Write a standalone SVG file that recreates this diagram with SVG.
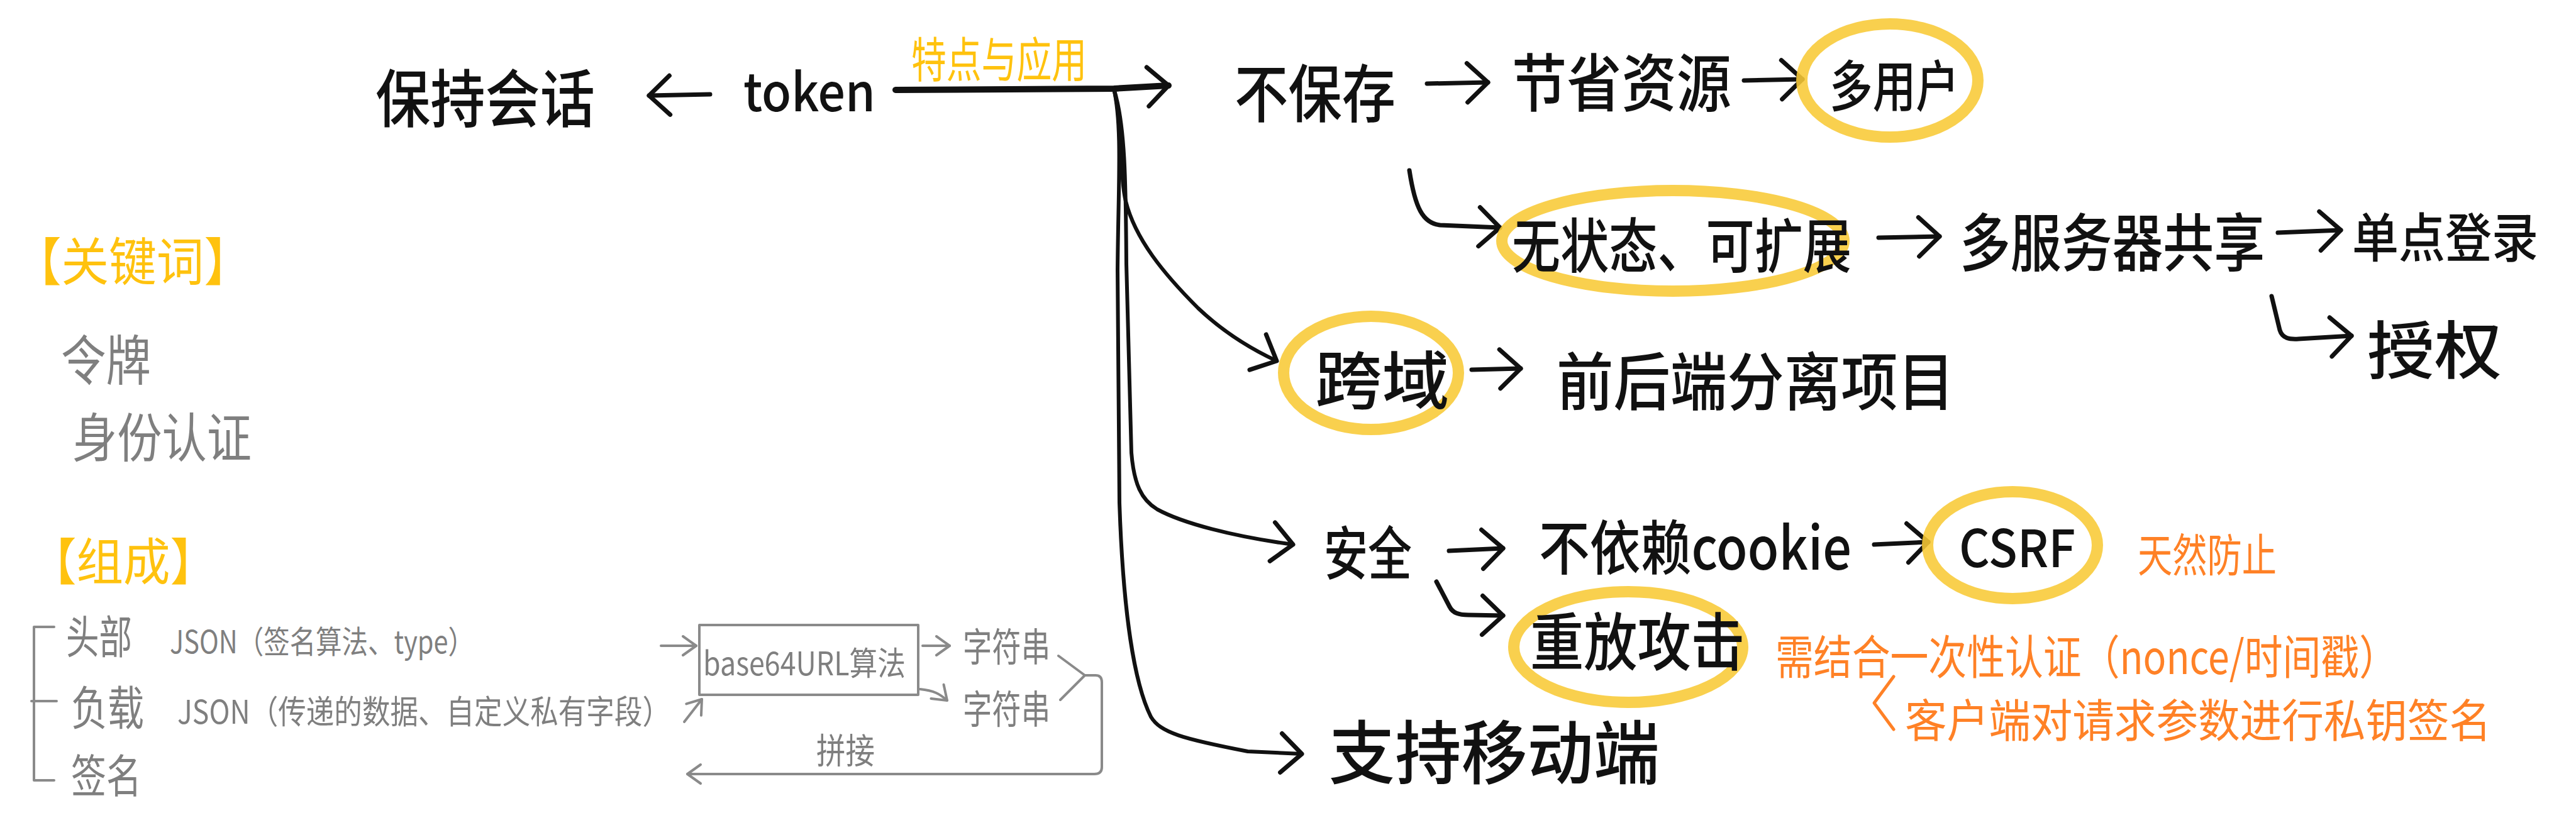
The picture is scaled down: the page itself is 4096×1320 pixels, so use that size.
<svg xmlns="http://www.w3.org/2000/svg" width="4096" height="1320" viewBox="0 0 4096 1320">
<defs>
<style>
.t{font-family:"Noto Sans CJK SC","Noto Sans",sans-serif;fill:#111;dominant-baseline:central;font-weight:500}
.g{fill:#7f7f7f;font-weight:400}
.y{fill:#FFC20E;font-weight:400}
.o{fill:#FF8126;font-weight:400}
.hl{fill:none;stroke:#F8CA35;stroke-width:18;opacity:.88}
.ln{fill:none;stroke:#111;stroke-width:7;stroke-linecap:round;stroke-linejoin:round}
.tr{fill:none;stroke:#111;stroke-width:6;stroke-linecap:round;stroke-linejoin:round}
.gl{fill:none;stroke:#8a8a8a;stroke-width:4;stroke-linecap:round;stroke-linejoin:round}
.ol{fill:none;stroke:#FF8126;stroke-width:5;stroke-linecap:round;stroke-linejoin:round}
</style>
<marker id="ah" viewBox="0 0 40 70" refX="37" refY="35" markerWidth="40" markerHeight="70" markerUnits="userSpaceOnUse" orient="auto" overflow="visible">
<path d="M4,4 L37,35 L4,66" fill="none" stroke="#111" stroke-width="7" stroke-linecap="round" stroke-linejoin="round"/>
</marker>
<marker id="ag" viewBox="0 0 26 36" refX="24" refY="18" markerWidth="26" markerHeight="36" markerUnits="userSpaceOnUse" orient="auto" overflow="visible">
<path d="M3,3 L24,18 L3,33" fill="none" stroke="#8a8a8a" stroke-width="4" stroke-linecap="round" stroke-linejoin="round"/>
</marker>
</defs>
<rect width="4096" height="1320" fill="#fff"/>

<g id="connectors">
<path class="ln" d="M1129,150 L1032,152" marker-end="url(#ah)"/>
<path class="ln" style="stroke-width:10" d="M1424,143 L1771,141 L1858,136" marker-end="url(#ah)"/>
<path class="tr" d="M1771,141 C1786,200 1780,280 1790,320 C1805,380 1850,435 1905,490 C1945,528 1985,553 2030,574" marker-end="url(#ah)"/>
<path class="tr" d="M1771,141 C1790,200 1790,300 1791,420 L1799,720 C1803,770 1815,795 1840,810 C1880,832 1960,853 2056,866" marker-end="url(#ah)"/>
<path class="tr" d="M1771,141 C1785,200 1778,300 1777,430 L1780,800 C1785,950 1800,1080 1830,1140 C1845,1165 1880,1175 1984,1195 L2070,1199" marker-end="url(#ah)"/>
<path class="ln" d="M2269,133 L2366,131" marker-end="url(#ah)"/>
<path class="ln" d="M2773,128 L2866,126" marker-end="url(#ah)"/>
<path class="ln" d="M2241,271 C2250,330 2262,355 2290,358 L2385,362" marker-end="url(#ah)"/>
<path class="ln" d="M2987,378 L3084,376" marker-end="url(#ah)"/>
<path class="ln" d="M3622,370 L3722,366" marker-end="url(#ah)"/>
<path class="ln" d="M3612,471 L3625,525 C3629,538 3640,540 3655,539 L3739,534" marker-end="url(#ah)"/>
<path class="ln" d="M2340,588 L2418,586" marker-end="url(#ah)"/>
<path class="ln" d="M2304,876 L2390,872" marker-end="url(#ah)"/>
<path class="ln" d="M2980,866 L3066,862" marker-end="url(#ah)"/>
<path class="ln" d="M2284,925 L2305,965 C2310,975 2320,978 2335,978 L2390,979" marker-end="url(#ah)"/>
<path class="ol" d="M3011,1076 L2980,1118 L3011,1160"/>
<path class="gl" d="M86,997 L54,997 L54,1241 L86,1241 M50,1115 L90,1115"/>
<path class="gl" d="M1051,1027 L1107,1027" marker-end="url(#ag)"/>
<path class="gl" d="M1088,1148 L1116,1112" marker-end="url(#ag)"/>
<path class="gl" d="M1467,1027 L1510,1027" marker-end="url(#ag)"/>
<path class="gl" d="M1463,1096 C1485,1098 1495,1104 1506,1114" marker-end="url(#ag)"/>
<path class="gl" d="M1683,1043 L1725,1074 L1686,1113 M1725,1074 L1742,1074 Q1752,1074 1752,1085 L1752,1220 Q1752,1231 1740,1231 L1093,1231" marker-end="url(#ag)"/>
<text class="t g" x="1298" y="1189" font-size="56" textLength="93" lengthAdjust="spacingAndGlyphs">拼接</text>
<text class="t y" x="1449" y="90" font-size="76" textLength="279" lengthAdjust="spacingAndGlyphs">特点与应用</text>
</g>

<g id="n-baochi"><text class="t" x="597" y="150" font-size="100" textLength="349" lengthAdjust="spacingAndGlyphs">保持会话</text></g>
<g id="n-token"><text class="t" x="1182" y="177" font-size="84" style="dominant-baseline:auto" textLength="210" lengthAdjust="spacingAndGlyphs">token</text></g>
<g id="n-bubaocun"><text class="t" x="1963" y="142" font-size="100" textLength="256" lengthAdjust="spacingAndGlyphs">不保存</text></g>
<g id="n-jiesheng"><text class="t" x="2404" y="125" font-size="100" textLength="349" lengthAdjust="spacingAndGlyphs">节省资源</text></g>
<g id="n-duoyonghu"><ellipse class="hl" cx="3005" cy="128" rx="140" ry="90"/><text class="t" x="2909" y="130" font-size="88" textLength="206" lengthAdjust="spacingAndGlyphs">多用户</text></g>
<g id="n-wuzhuangtai"><ellipse class="hl" cx="2660" cy="383" rx="272" ry="80"/><text class="t" x="2404" y="385" font-size="94" textLength="540" lengthAdjust="spacingAndGlyphs">无状态、可扩展</text></g>
<g id="n-duofuwu"><text class="t" x="3116" y="379" font-size="100" textLength="485" lengthAdjust="spacingAndGlyphs">多服务器共享</text></g>
<g id="n-dandian"><text class="t" x="3740" y="372" font-size="84" textLength="296" lengthAdjust="spacingAndGlyphs">单点登录</text></g>
<g id="n-shouquan"><text class="t" x="3764" y="550" font-size="100" textLength="214" lengthAdjust="spacingAndGlyphs">授权</text></g>
<g id="n-kuayu"><ellipse class="hl" cx="2180" cy="593" rx="139" ry="90"/><text class="t" x="2091" y="598" font-size="100" textLength="213" lengthAdjust="spacingAndGlyphs">跨域</text></g>
<g id="n-qianhou"><text class="t" x="2475" y="600" font-size="100" textLength="633" lengthAdjust="spacingAndGlyphs">前后端分离项目</text></g>
<g id="n-anquan"><text class="t" x="2105" y="873" font-size="92" textLength="140" lengthAdjust="spacingAndGlyphs">安全</text></g>
<g id="n-cookie"><text class="t" x="2447" y="865" font-size="94" textLength="497" lengthAdjust="spacingAndGlyphs">不依赖cookie</text></g>
<g id="n-csrf"><ellipse class="hl" cx="3200" cy="867" rx="135" ry="85"/><text class="t" x="3115" y="866" font-size="82" textLength="185" lengthAdjust="spacingAndGlyphs">CSRF</text></g>
<g id="n-tianran"><text class="t o" x="3399" y="877" font-size="72" textLength="221" lengthAdjust="spacingAndGlyphs">天然防止</text></g>
<g id="n-chongfang"><ellipse class="hl" cx="2589" cy="1029" rx="182" ry="88"/><text class="t" x="2433" y="1014" font-size="100" textLength="341" lengthAdjust="spacingAndGlyphs">重放攻击</text></g>
<g id="n-note1"><text class="t o" x="2823" y="1039" font-size="74" textLength="989" lengthAdjust="spacingAndGlyphs">需结合一次性认证（nonce/时间戳）</text></g>
<g id="n-note2"><text class="t o" x="3029" y="1140" font-size="72" textLength="932" lengthAdjust="spacingAndGlyphs">客户端对请求参数进行私钥签名</text></g>
<g id="n-yidong"><text class="t" x="2113" y="1190" font-size="110" textLength="526" lengthAdjust="spacingAndGlyphs">支持移动端</text></g>

<g id="kw-title"><text class="t y" x="22" y="410" font-size="82" textLength="378" lengthAdjust="spacingAndGlyphs">【关键词】</text></g>
<g id="kw-lingpai"><text class="t g" x="97" y="567" font-size="86" textLength="143" lengthAdjust="spacingAndGlyphs">令牌</text></g>
<g id="kw-shenfen"><text class="t g" x="115" y="690" font-size="84" textLength="285" lengthAdjust="spacingAndGlyphs">身份认证</text></g>
<g id="zc-title"><text class="t y" x="47" y="887" font-size="80" textLength="298" lengthAdjust="spacingAndGlyphs">【组成】</text></g>
<g id="zc-header"><text class="t g" x="105" y="1007" font-size="72" textLength="105" lengthAdjust="spacingAndGlyphs">头部</text><text class="t g" x="270" y="1017" font-size="50" textLength="484" lengthAdjust="spacingAndGlyphs">JSON（签名算法、type）</text></g>
<g id="zc-payload"><text class="t g" x="113" y="1120" font-size="74" textLength="116" lengthAdjust="spacingAndGlyphs">负载</text><text class="t g" x="282" y="1128" font-size="52" textLength="784" lengthAdjust="spacingAndGlyphs">JSON（传递的数据、自定义私有字段）</text></g>
<g id="zc-sign"><text class="t g" x="113" y="1228" font-size="72" textLength="112" lengthAdjust="spacingAndGlyphs">签名</text></g>
<g id="box-base64"><rect class="gl" x="1112" y="994" width="348" height="111"/><text class="t g" x="1118" y="1051" font-size="52" textLength="322" lengthAdjust="spacingAndGlyphs">base64URL算法</text></g>
<g id="str-1"><text class="t g" x="1531" y="1025" font-size="62" textLength="139" lengthAdjust="spacingAndGlyphs">字符串</text></g>
<g id="str-2"><text class="t g" x="1531" y="1124" font-size="62" textLength="139" lengthAdjust="spacingAndGlyphs">字符串</text></g>
</svg>
